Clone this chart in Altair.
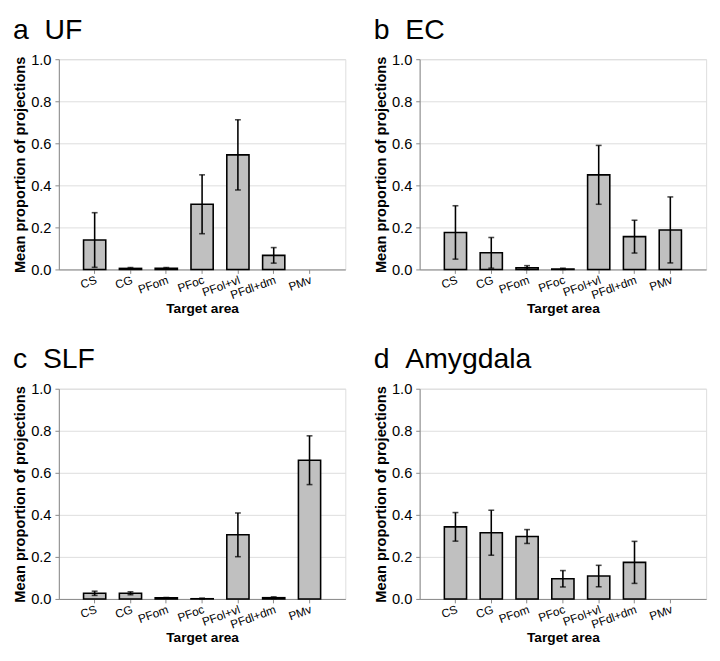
import altair as alt
import pandas as pd

categories = ["CS", "CG", "PFom", "PFoc", "PFol+vl", "PFdl+dm", "PMv"]

uf_mean = [0.14, 0.005, 0.005, 0.31, 0.545, 0.067, 0.0]
uf_err = [0.13, 0.004, 0.004, 0.14, 0.167, 0.037, 0.0]

ec_mean = [0.176, 0.079, 0.008, 0.002, 0.45, 0.156, 0.188]
ec_err = [0.127, 0.073, 0.010, 0.004, 0.14, 0.078, 0.157]

slf_mean = [0.027, 0.027, 0.005, 0.001, 0.305, 0.006, 0.66]
slf_err = [0.010, 0.007, 0.002, 0.003, 0.104, 0.004, 0.116]

amy_mean = [0.343, 0.315, 0.297, 0.096, 0.109, 0.174, 0.0]
amy_err = [0.068, 0.107, 0.033, 0.039, 0.051, 0.10, 0.0]

y_ticks = [0.0, 0.2, 0.4, 0.6, 0.8, 1.0]
FONT = "Liberation Sans"


def panel(letter, name, means, errs):
    df = pd.DataFrame({"area": categories, "mean": means, "err": errs})
    df["lo"] = (df["mean"] - df["err"]).clip(lower=0)
    df["hi"] = df["mean"] + df["err"]
    base = alt.Chart(df)

    x = alt.X(
        "area:N",
        sort=categories,
        scale=alt.Scale(domain=categories, paddingInner=0.38, paddingOuter=0.69),
        axis=alt.Axis(
            title="Target area",
            labelAngle=340,
            labelAlign="right",
            labelBaseline="top",
            labelFontSize=12,
            labelPadding=1,
            labelOverlap=False,
            tickSize=4,
            titleFontSize=14,
            titleFontWeight="bold",
            titlePadding=1,
        ),
    )
    y = alt.Y(
        "mean:Q",
        scale=alt.Scale(domain=[0, 1], nice=False, zero=True),
        axis=alt.Axis(
            title="Mean proportion of projections",
            values=y_ticks,
            format=".1f",
            labelFontSize=15,
            labelPadding=4,
            tickSize=4,
            titleFontSize=15,
            titleFontWeight="bold",
            titlePadding=3,
        ),
    )
    bars = (
        base.transform_filter("datum.mean > 0")
        .mark_bar(fill="#C0C0C0", stroke="black", strokeWidth=1.6)
        .encode(x=x, y=y)
    )
    eb = base.transform_filter("datum.err > 0")
    xe = alt.X("area:N", sort=categories)
    rule = eb.mark_rule(color="black", strokeWidth=1.6).encode(
        x=xe, y=alt.Y("lo:Q"), y2="hi:Q"
    )
    cap_lo = eb.mark_tick(color="black", size=6, thickness=1.6).encode(
        x=xe, y=alt.Y("lo:Q")
    )
    cap_hi = eb.mark_tick(color="black", size=6, thickness=1.6).encode(
        x=xe, y=alt.Y("hi:Q")
    )
    return alt.layer(bars, rule, cap_lo, cap_hi).properties(
        width=293,
        height=215,
        title=alt.TitleParams(
            text=letter + "\u00a0\u00a0" + name,
            anchor="start",
            frame="bounds",
            fontSize=29,
            fontWeight="normal",
            font=FONT,
            color="black",
            offset=8,
        ),
    )


a = panel("a", "UF", uf_mean, uf_err)
b = panel("b", "EC", ec_mean, ec_err)
c = panel("c", "SLF", slf_mean, slf_err)
d = panel("d", "Amygdala", amy_mean, amy_err)

chart = (
    alt.vconcat(
        alt.hconcat(a, b, spacing=27),
        alt.hconcat(c, d, spacing=27),
        spacing=29,
    )
    .properties(padding={"left": 4, "top": 0, "right": 5, "bottom": 5})
    .configure_axis(
        labelFont=FONT,
        titleFont=FONT,
        labelColor="black",
        titleColor="black",
        domainColor="black",
        tickColor="black",
        domainWidth=1.5,
        tickWidth=1.5,
        grid=False,
    )
    .configure_view(stroke=None)
    .configure(background="white")
)

chart.save("out.html", embed_options={"renderer": "svg", "actions": False})
